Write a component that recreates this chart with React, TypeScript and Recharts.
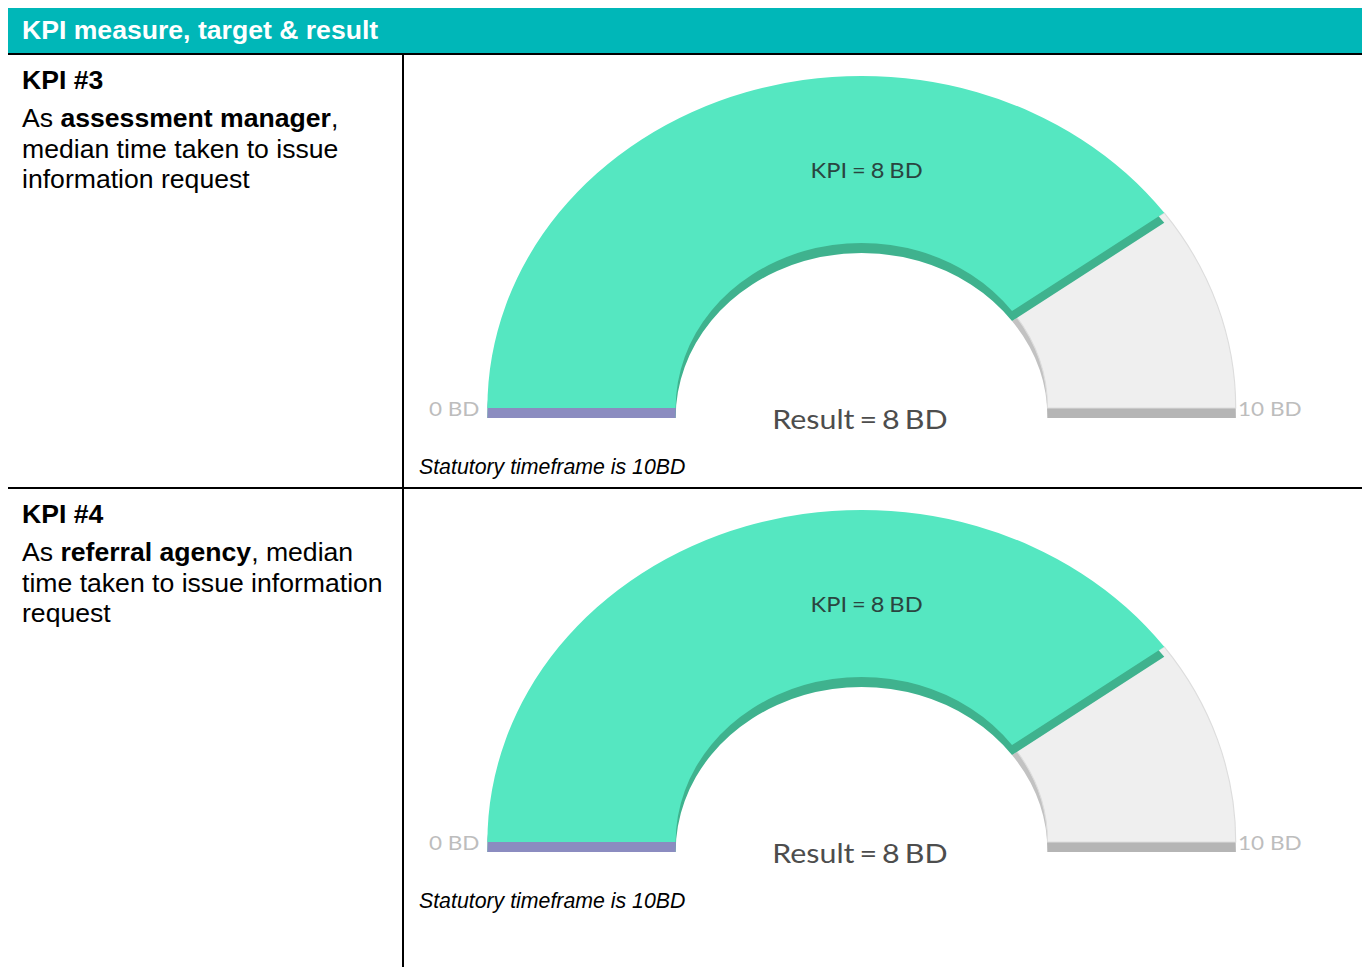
import { PieChart, Pie, Cell } from "recharts";

// values
const kpiTitles = ["KPI #3", "KPI #4"];
const kpiRoles = ["assessment manager", "referral agency"];
const kpiTargets = [8, 8];
const kpiResults = [8, 8];
const scaleMin = 0;
const scaleMax = 10;
const statutoryDays = 10;

// the gauge image in the source is stretched sideways
const STRETCH = 1.127;
const GREEN = "#55e7c1";
const GREEN_SIDE = "#3fb28e";
const GREY = "#efefef";
const GREY_SIDE = "#c2c2c2";
const NONE = "transparent";

const textFont = "Arial, 'Liberation Sans', sans-serif";
const CHART_W = 854;
const CHART_H = 432;
const noMargin = { top: 0, right: 0, bottom: 0, left: 0 };

function Gauge({ target, result }: { target: number; result: number }) {
  const data = [
    { name: "Result", value: result - scaleMin },
    { name: "Remaining", value: scaleMax - result },
  ];
  const cx = 406;
  const cy = 353;
  const inner = 165;
  const outer = 332;
  const depth = 10;
  const ring = {
    dataKey: "value",
    cx,
    startAngle: 180,
    endAngle: 0,
    innerRadius: inner,
    outerRadius: outer,
    stroke: "none",
    isAnimationActive: false,
  };

  return (
    <div
      style={{
        position: "absolute",
        left: 0,
        top: 0,
        width: CHART_W,
        height: CHART_H,
        transform: `scaleX(${STRETCH})`,
        transformOrigin: "0 0",
      }}
    >
      <PieChart width={CHART_W} height={CHART_H} margin={noMargin}>
        {/* grey slab: side wall, then face */}
        <Pie {...ring} data={data} cy={cy + depth}>
          <Cell fill={NONE} />
          <Cell fill={GREY_SIDE} />
        </Pie>
        <Pie
          {...ring}
          data={[{ value: 1 }]}
          cy={cy + depth}
          startAngle={3.6}
          endAngle={0}
          fill="#b5b5b5"
        />
        <Pie {...ring} data={data} cy={cy}>
          <Cell fill={NONE} />
          <Cell fill={GREY} stroke="#dddddd" strokeWidth={1} />
        </Pie>
        {/* green slab: side wall, end face, then top face */}
        <Pie {...ring} data={data} cy={cy + depth}>
          <Cell fill={GREEN_SIDE} />
          <Cell fill={NONE} />
        </Pie>
        <Pie
          {...ring}
          data={[{ value: 1 }]}
          cy={cy + depth}
          startAngle={180}
          endAngle={176.4}
          fill="#8b8cc0"
        />
        <Pie {...ring} data={data} cy={cy}>
          <Cell fill={GREEN} />
          <Cell fill={NONE} />
        </Pie>
      </PieChart>
      {/* labels sit above the pie layers */}
      <svg
        width={CHART_W}
        height={CHART_H}
        style={{ position: "absolute", left: 0, top: 0, pointerEvents: "none" }}
      >
        <text
          x={410.5}
          y={123}
          textAnchor="middle"
          fontFamily="Lato"
          fontSize={21}
          wordSpacing={-1}
          fill="#2a4540"
        >
          KPI = {target} BD
        </text>
        <text
          x={404.5}
          y={374}
          textAnchor="middle"
          fontFamily="Lato"
          fontSize={27}
          wordSpacing={-2.5}
          fill="#4d4d4d"
        >
          Result = {result} BD
        </text>
        <text
          x={67}
          y={361}
          textAnchor="end"
          fontFamily="Lato"
          fontSize={20}
          fill="#bdbdbd"
        >
          {scaleMin} BD
        </text>
        <text
          x={740}
          y={361}
          textAnchor="start"
          fontFamily="Lato"
          fontSize={20}
          fill="#bdbdbd"
        >
          {scaleMax} BD
        </text>
      </svg>
    </div>
  );
}

function KpiRow({ index, height, last }: { index: number; height: number; last: boolean }) {
  return (
    <div
      style={{
        display: "flex",
        height,
        borderBottom: last ? "none" : "2px solid #000",
      }}
    >
      <div
        style={{
          width: 396,
          flex: "none",
          borderRight: "2px solid #000",
          padding: "10px 8px 0 14px",
          boxSizing: "border-box",
          fontFamily: textFont,
          fontSize: 26.6,
          lineHeight: "30.5px",
          color: "#000",
        }}
      >
        <div style={{ fontWeight: "bold", marginBottom: 8, lineHeight: "30px" }}>
          {kpiTitles[index]}
        </div>
        <div>
          As <b>{kpiRoles[index]}</b>, median time taken to issue information
          request
        </div>
      </div>
      <div style={{ position: "relative", flex: 1 }}>
        <Gauge target={kpiTargets[index]} result={kpiResults[index]} />
        <div
          style={{
            position: "absolute",
            left: 15,
            top: 400,
            fontFamily: textFont,
            fontStyle: "italic",
            fontSize: 21.3,
            whiteSpace: "nowrap",
          }}
        >
          Statutory timeframe is {statutoryDays}BD
        </div>
      </div>
    </div>
  );
}

export default function App() {
  return (
    <div
      style={{
        position: "relative",
        margin: "-2px 0 0 -2px",
        width: 1363,
        height: 961,
        overflow: "hidden",
        border: "2px solid #000",
        borderBottom: "none",
        boxSizing: "border-box",
        background: "#fff",
      }}
    >
      <div
        style={{
          height: 45,
          background: "#00b7b8",
          borderBottom: "2px solid #000",
          color: "#fff",
          fontFamily: textFont,
          fontWeight: "bold",
          fontSize: 26.6,
          lineHeight: "45px",
          paddingLeft: 14,
        }}
      >
        KPI measure, target &amp; result
      </div>
      <KpiRow index={0} height={432} last={false} />
      <KpiRow index={1} height={480} last={true} />
    </div>
  );
}
